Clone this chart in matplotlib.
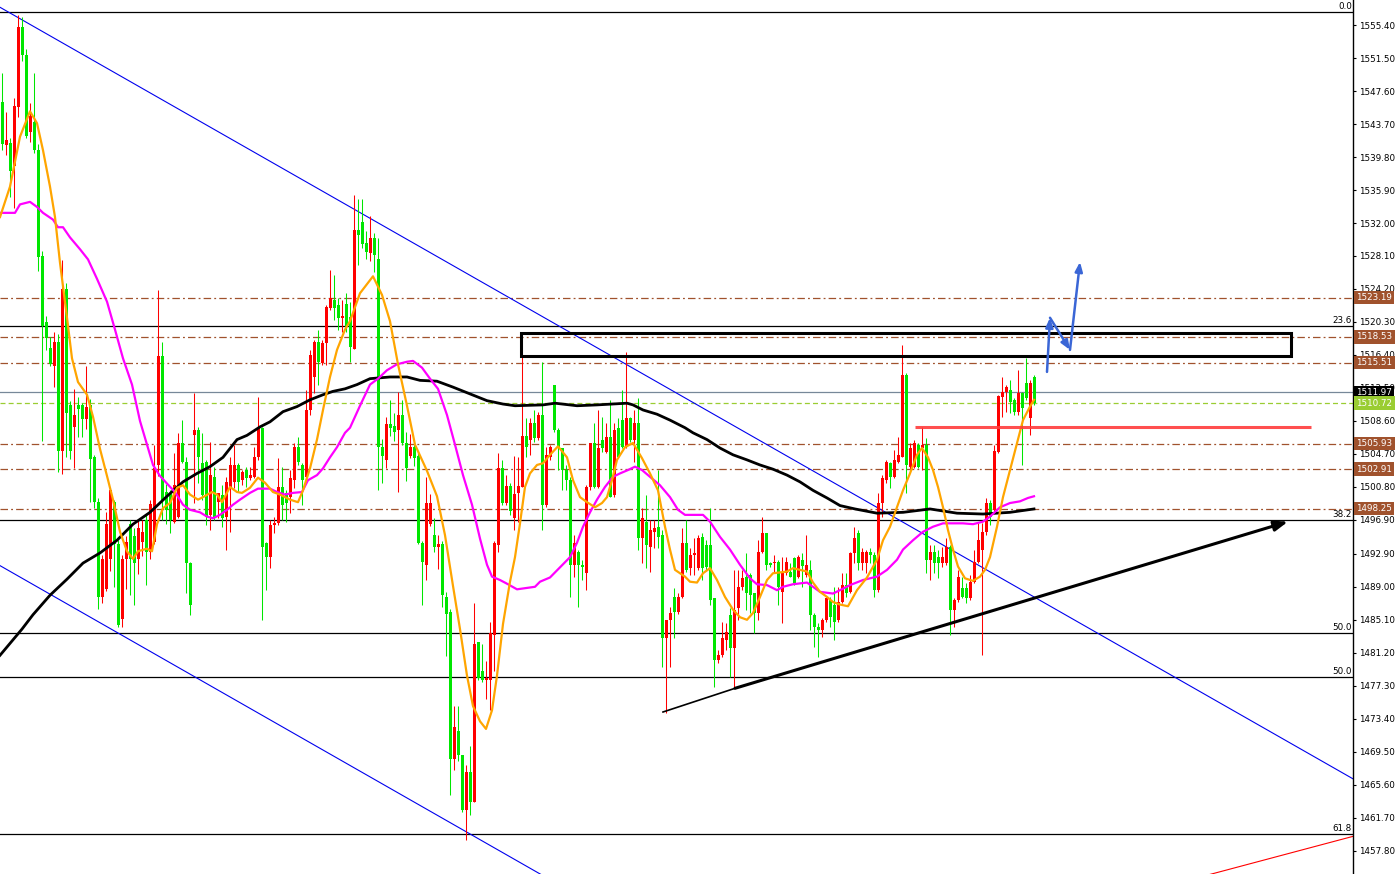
import numpy as np
import matplotlib
matplotlib.use("Agg")
import matplotlib.pyplot as plt
from matplotlib.patches import Rectangle

# ---- candles (bar index 0..258), prices ----
opens = [
    1546.3, 1541.2, 1541.5, 1538.7, 1545.7, 1555.2, 1551.9, 1542.8, 1543.9, 1540.6,
    1528.1, 1520.3, 1517.2, 1515.1, 1517.9, 1505.1, 1524.2, 1510.5, 1507.9, 1510.5,
    1510.5, 1508.8, 1510.5, 1504.3, 1499.0, 1487.8, 1488.7, 1492.3, 1499.0, 1494.1,
    1485.2, 1492.3, 1496.4, 1495.0, 1492.3, 1494.3, 1496.9, 1493.1, 1494.3, 1503.4,
    1516.3, 1500.2, 1500.0, 1496.7, 1497.3, 1506.0, 1503.8, 1491.8, 1506.9, 1507.5,
    1503.6, 1503.8, 1497.5, 1502.0, 1499.0, 1499.9, 1497.3, 1500.8, 1501.4, 1503.4,
    1501.6, 1502.8, 1501.9, 1502.0, 1504.3, 1507.8, 1494.2, 1492.5, 1496.3, 1496.5,
    1500.8, 1500.1, 1499.6, 1501.6, 1505.5, 1503.4, 1502.0, 1509.9, 1513.8, 1517.9,
    1515.5, 1517.8, 1521.9, 1522.9, 1522.3, 1520.8, 1522.4, 1520.9, 1517.1, 1531.2,
    1532.1, 1529.6, 1528.5, 1530.2, 1527.7, 1505.5, 1504.0, 1508.2, 1508.0, 1507.5,
    1509.3, 1506.0, 1504.5, 1505.5, 1504.5, 1494.2, 1491.6, 1496.4, 1495.1, 1493.7,
    1494.0, 1487.8, 1486.0, 1468.6, 1471.9, 1469.1, 1462.6, 1467.1, 1463.6, 1482.5,
    1479.0, 1478.0, 1478.0, 1483.3, 1493.9, 1503.0, 1498.9, 1500.9, 1497.1, 1500.1,
    1500.8, 1506.8, 1506.4, 1508.4, 1506.6, 1509.3, 1498.7, 1504.3, 1512.9, 1507.5,
    1505.4, 1502.8, 1501.6, 1491.6, 1493.1, 1491.6, 1490.6, 1500.8, 1506.0, 1500.8,
    1506.4, 1504.9, 1506.7, 1499.9, 1507.8, 1508.7, 1505.5, 1509.0, 1506.4, 1508.4,
    1494.8, 1496.7, 1493.7, 1495.5, 1496.1, 1495.1, 1483.0, 1485.1, 1487.8, 1486.0,
    1487.8, 1494.2, 1491.2, 1492.8, 1491.2, 1494.9, 1493.9, 1493.9, 1487.7, 1480.4,
    1480.9, 1482.7, 1485.7, 1481.8, 1486.5, 1489.0, 1490.2, 1490.4, 1488.3, 1485.9,
    1493.1, 1495.4, 1491.8, 1491.8, 1491.9, 1488.4, 1490.6, 1490.8, 1492.4, 1490.2,
    1492.2, 1490.4, 1491.0, 1485.7, 1484.3, 1483.9, 1485.1, 1487.4, 1486.9, 1485.1,
    1487.2, 1489.2, 1488.4, 1493.0, 1495.4, 1491.8, 1491.8, 1493.1, 1492.8, 1488.6,
    1498.9, 1501.6, 1503.6, 1502.0, 1503.8, 1504.3, 1514.0, 1503.2, 1503.2, 1505.8,
    1505.4, 1505.8, 1492.2, 1493.1, 1492.5, 1491.8, 1491.8, 1493.7, 1486.3, 1487.4,
    1488.9, 1488.9, 1487.7, 1489.6, 1491.9, 1493.4, 1495.5, 1498.9, 1498.1, 1504.9,
    1511.4, 1512.0, 1512.3, 1511.1, 1509.7, 1511.9, 1513.1, 1508.9, 1513.8,
]
closes = [
    1541.3, 1541.8, 1538.2, 1545.8, 1555.2, 1551.9, 1542.3, 1544.7, 1540.6, 1528.0,
    1519.8, 1518.4, 1515.3, 1517.9, 1505.1, 1524.2, 1509.5, 1505.1, 1509.3, 1510.0,
    1508.8, 1510.3, 1504.1, 1499.0, 1487.8, 1492.3, 1496.4, 1500.4, 1494.1, 1484.5,
    1492.3, 1494.3, 1492.3, 1491.8, 1496.0, 1495.5, 1493.1, 1498.8, 1503.0, 1516.3,
    1499.3, 1498.1, 1496.9, 1501.0, 1506.0, 1503.8, 1491.8, 1486.9, 1507.5, 1504.3,
    1499.9, 1497.3, 1502.2, 1497.3, 1500.1, 1497.1, 1501.4, 1503.4, 1503.4, 1501.4,
    1502.6, 1501.9, 1502.2, 1504.3, 1507.8, 1493.7, 1492.5, 1496.3, 1496.5, 1500.8,
    1498.7, 1498.9, 1501.9, 1505.5, 1503.8, 1501.6, 1509.9, 1516.4, 1517.9, 1515.6,
    1517.8, 1522.1, 1523.1, 1521.9, 1520.8, 1521.0, 1519.7, 1517.3, 1531.2, 1530.6,
    1529.5, 1528.6, 1530.2, 1528.2, 1505.5, 1504.5, 1508.2, 1507.8, 1507.3, 1509.3,
    1506.0, 1503.0, 1505.5, 1504.2, 1494.2, 1491.9, 1498.9, 1498.9, 1493.7, 1494.0,
    1488.0, 1485.8, 1468.6, 1472.4, 1469.1, 1462.6, 1467.1, 1463.6, 1482.2, 1478.2,
    1478.0, 1478.2, 1483.5, 1494.2, 1503.0, 1498.9, 1500.9, 1498.0, 1500.0, 1500.9,
    1506.8, 1505.5, 1508.4, 1506.6, 1509.3, 1498.7, 1504.6, 1505.5, 1507.5, 1505.4,
    1502.8, 1501.6, 1491.6, 1494.2, 1491.6, 1491.3, 1500.8, 1506.0, 1500.8, 1505.4,
    1505.4, 1506.7, 1499.6, 1507.5, 1504.3, 1505.5, 1509.0, 1506.4, 1508.4, 1494.8,
    1497.1, 1493.9, 1495.7, 1496.0, 1494.9, 1483.0, 1485.1, 1485.9, 1486.0, 1487.8,
    1494.2, 1491.0, 1492.8, 1493.0, 1494.8, 1491.2, 1491.3, 1487.4, 1480.4, 1480.9,
    1483.0, 1483.7, 1481.8, 1486.3, 1489.0, 1490.0, 1488.3, 1488.0, 1485.9, 1493.1,
    1495.4, 1491.6, 1491.6, 1491.9, 1489.0, 1490.8, 1491.9, 1490.2, 1489.5, 1492.5,
    1491.4, 1491.6, 1485.7, 1484.3, 1483.9, 1485.1, 1487.7, 1485.4, 1484.8, 1487.2,
    1489.2, 1488.3, 1493.0, 1494.8, 1491.8, 1493.1, 1493.1, 1492.8, 1488.6, 1498.9,
    1501.9, 1503.8, 1502.0, 1504.0, 1504.6, 1514.0, 1503.4, 1505.4, 1506.0, 1503.2,
    1505.8, 1492.2, 1493.1, 1491.8, 1491.8, 1492.5, 1493.7, 1486.3, 1487.4, 1490.2,
    1487.8, 1487.7, 1489.6, 1491.9, 1494.5, 1495.5, 1498.9, 1497.3, 1505.1, 1511.6,
    1512.0, 1512.6, 1510.8, 1509.7, 1511.9, 1510.1, 1511.3, 1513.1, 1510.7,
]
highs = [
    1549.7, 1545.1, 1542.1, 1546.8, 1556.6, 1556.4, 1552.6, 1546.2, 1549.7, 1541.3,
    1528.7, 1521.0, 1518.5, 1519.1, 1518.9, 1527.6, 1524.9, 1511.0, 1512.4, 1511.4,
    1510.7, 1515.1, 1511.2, 1504.6, 1499.5, 1492.8, 1497.8, 1500.7, 1499.3, 1494.5,
    1492.8, 1495.0, 1496.9, 1496.0, 1496.9, 1496.9, 1497.6, 1499.3, 1505.8, 1524.1,
    1517.9, 1501.2, 1500.4, 1504.8, 1507.2, 1508.7, 1504.3, 1491.9, 1511.9, 1507.9,
    1507.2, 1504.0, 1506.1, 1503.2, 1500.1, 1501.0, 1502.0, 1504.3, 1505.8, 1503.6,
    1502.8, 1503.2, 1503.2, 1505.5, 1511.4, 1507.9, 1494.3, 1496.9, 1497.3, 1504.2,
    1503.2, 1500.4, 1502.8, 1506.0, 1506.7, 1503.6, 1512.3, 1517.0, 1518.2, 1519.4,
    1518.2, 1522.3, 1526.5, 1525.9, 1523.1, 1522.9, 1523.7, 1522.7, 1535.3, 1534.8,
    1534.8, 1531.1, 1532.8, 1530.8, 1530.2, 1506.5, 1509.1, 1511.1, 1509.5, 1512.0,
    1511.1, 1507.3, 1507.1, 1506.0, 1504.8, 1494.4, 1502.0, 1500.0, 1497.1, 1495.1,
    1494.4, 1488.4, 1486.4, 1474.9, 1474.9, 1469.1, 1467.9, 1470.2, 1487.1, 1482.5,
    1482.2, 1480.2, 1484.8, 1494.4, 1504.8, 1504.0, 1502.2, 1501.3, 1504.5, 1504.3,
    1516.2, 1509.0, 1509.0, 1509.9, 1509.7, 1515.6, 1505.5, 1505.8, 1512.9, 1507.8,
    1505.4, 1503.4, 1502.0, 1495.1, 1493.4, 1492.2, 1501.0, 1506.0, 1508.4, 1509.9,
    1509.1, 1508.4, 1511.1, 1508.4, 1509.0, 1512.3, 1516.8, 1509.1, 1509.9, 1511.3,
    1498.3, 1499.9, 1496.9, 1496.9, 1502.8, 1495.7, 1485.1, 1486.6, 1488.9, 1488.3,
    1496.0, 1496.9, 1493.6, 1494.8, 1495.1, 1495.4, 1494.5, 1498.3, 1487.7, 1481.5,
    1484.8, 1484.7, 1486.5, 1491.0, 1491.0, 1491.0, 1493.0, 1490.6, 1488.3, 1494.5,
    1497.3, 1495.4, 1491.9, 1492.8, 1492.2, 1492.5, 1492.5, 1491.8, 1492.5, 1492.8,
    1493.0, 1495.1, 1492.2, 1485.9, 1484.7, 1485.3, 1487.8, 1487.8, 1489.0, 1489.0,
    1490.6, 1490.6, 1493.1, 1496.1, 1495.7, 1493.6, 1493.4, 1493.6, 1493.1, 1500.1,
    1502.2, 1504.0, 1503.8, 1505.2, 1506.7, 1517.6, 1514.3, 1506.0, 1506.4, 1506.0,
    1507.9, 1506.6, 1493.9, 1493.9, 1493.4, 1493.7, 1494.8, 1493.9, 1487.7, 1491.0,
    1490.2, 1489.5, 1490.4, 1493.4, 1496.5, 1496.5, 1499.5, 1499.3, 1505.8, 1511.7,
    1513.8, 1512.9, 1513.4, 1511.3, 1514.6, 1512.0, 1516.0, 1513.5, 1514.0,
]
lows = [
    1540.6, 1540.0, 1535.1, 1533.8, 1544.5, 1551.2, 1542.1, 1541.6, 1540.3, 1526.3,
    1506.2, 1517.0, 1515.1, 1512.6, 1502.6, 1502.3, 1504.3, 1504.1, 1503.0, 1506.7,
    1506.7, 1507.7, 1499.0, 1498.3, 1486.4, 1487.1, 1488.5, 1490.9, 1489.0, 1484.3,
    1484.3, 1488.7, 1488.0, 1486.9, 1490.5, 1492.6, 1489.2, 1492.3, 1494.1, 1502.1,
    1496.9, 1496.4, 1495.4, 1496.5, 1497.1, 1503.6, 1488.3, 1485.7, 1498.9, 1501.3,
    1499.3, 1496.3, 1495.7, 1496.9, 1497.1, 1496.1, 1493.4, 1495.5, 1500.7, 1500.2,
    1501.0, 1500.8, 1501.6, 1501.9, 1504.0, 1485.1, 1488.6, 1491.2, 1495.4, 1496.3,
    1496.9, 1496.7, 1497.7, 1500.7, 1503.4, 1498.7, 1501.6, 1509.3, 1511.9, 1512.9,
    1515.2, 1515.2, 1521.7, 1520.5, 1519.4, 1519.1, 1519.1, 1515.6, 1517.1, 1527.0,
    1529.0, 1527.7, 1527.5, 1526.2, 1500.4, 1501.3, 1503.0, 1506.8, 1506.2, 1500.2,
    1505.8, 1501.5, 1504.2, 1503.3, 1494.0, 1486.9, 1489.8, 1496.2, 1493.1, 1491.1,
    1486.6, 1480.8, 1464.4, 1467.3, 1468.4, 1462.4, 1459.1, 1462.0, 1463.6, 1478.0,
    1477.7, 1475.7, 1474.4, 1479.0, 1493.1, 1498.7, 1498.7, 1497.5, 1495.7, 1496.7,
    1500.8, 1504.3, 1504.6, 1506.1, 1506.4, 1495.7, 1498.4, 1504.0, 1507.3, 1502.8,
    1500.4, 1500.4, 1487.8, 1490.2, 1486.6, 1489.8, 1488.6, 1500.4, 1500.7, 1500.7,
    1504.9, 1504.8, 1499.6, 1499.6, 1504.2, 1505.4, 1505.4, 1506.1, 1503.8, 1493.4,
    1491.8, 1491.2, 1490.8, 1493.6, 1493.6, 1479.5, 1474.1, 1479.5, 1483.0, 1485.8,
    1487.7, 1490.8, 1490.4, 1490.4, 1491.0, 1489.8, 1491.0, 1486.9, 1477.2, 1480.0,
    1480.7, 1481.5, 1478.3, 1477.2, 1485.1, 1488.6, 1486.3, 1485.9, 1483.5, 1485.1,
    1493.0, 1491.0, 1491.3, 1490.6, 1486.9, 1484.7, 1490.4, 1490.2, 1489.2, 1490.0,
    1489.0, 1490.2, 1483.9, 1481.9, 1480.7, 1483.1, 1484.8, 1484.3, 1482.7, 1484.8,
    1487.1, 1487.8, 1488.3, 1491.8, 1491.0, 1491.0, 1490.6, 1491.8, 1487.8, 1488.4,
    1497.3, 1501.3, 1500.7, 1501.9, 1503.6, 1504.3, 1500.1, 1502.8, 1503.0, 1503.0,
    1502.8, 1490.6, 1489.8, 1490.6, 1490.0, 1491.3, 1491.6, 1483.3, 1484.3, 1487.2,
    1487.7, 1487.1, 1487.4, 1489.5, 1491.8, 1480.9, 1495.1, 1496.3, 1497.8, 1504.8,
    1509.1, 1509.7, 1509.5, 1509.3, 1509.3, 1503.4, 1511.1, 1507.0, 1510.5,
]

# ---- moving averages (bar index, price) ----
fast_ma_idx = [-0.5, 2, 4.5, 7, 8.75, 10.25, 12, 13.25, 14.5, 16.25, 17.5, 19, 21.25, 22.75,
               24.5, 26.25, 27.75, 29.5, 31.25, 32.75, 34, 36.25, 37.5, 38.75, 40.25, 42,
               43.75, 45.25, 47, 49, 50.25, 52.5, 53.75, 55, 57, 58.75, 60, 62, 64, 65.75,
               67.75, 69.5, 72, 74, 75.25, 77, 78.75, 80.25, 82, 83.75, 85.75, 87, 89.5,
               92.75, 95, 97, 99, 101.25, 103.25, 106.25, 108.75, 110.75, 112.75, 114.5,
               116.25, 117.75, 119.5, 121, 122.5, 123.75, 125.25, 127, 128.25, 129.5,
               130.75, 132, 133.75, 135.25, 137, 139, 141.25, 142.75, 144.5, 146.25,
               148.25, 150, 151.25, 152.5, 153.75, 155.75, 157.75, 160, 162, 164, 165.75,
               167, 168.25, 170.75, 172, 173.75, 175.25, 177, 178.75, 180.75, 182.75,
               184.5, 186.25, 187.75, 189.5, 191.25, 192.75, 196.25, 197.75, 199.5,
               201.25, 202.75, 204.5, 206.25, 207.75, 209.5, 211.5, 213.75, 216.25,
               218.75, 220.25, 222, 223.75, 225.25, 227, 228.75, 230, 231.5, 232.75, 234,
               235.25, 236.5, 237.75, 239, 240.75, 242.75, 244.5, 245.75, 247, 248.75,
               250.25, 252, 253.75, 255.25, 257, 258]
fast_ma = [1532.7, 1536.3, 1542.2, 1545.2, 1543.8, 1540.6, 1536.3, 1532.7, 1527.3, 1520.8,
           1516.0, 1513.2, 1511.7, 1509.1, 1505.3, 1502.1, 1499.3, 1495.5, 1493.2, 1492.3,
           1493.2, 1493.5, 1493.2, 1496.4, 1498.3, 1498.9, 1500.7, 1501.0, 1499.9, 1499.3,
           1499.6, 1500.2, 1499.9, 1499.0, 1500.8, 1500.2, 1500.1, 1500.7, 1501.9, 1501.3,
           1500.2, 1499.9, 1499.3, 1499.0, 1500.4, 1503.0, 1506.4, 1509.9, 1513.8, 1517.0,
           1519.4, 1520.4, 1523.7, 1525.7, 1523.5, 1520.4, 1515.3, 1510.4, 1505.8, 1502.7,
           1499.7, 1495.1, 1489.1, 1484.0, 1478.5, 1474.9, 1473.1, 1472.2, 1474.4, 1478.5,
           1484.6, 1489.6, 1492.5, 1496.5, 1500.8, 1502.4, 1503.4, 1503.6, 1504.6, 1505.6,
           1504.3, 1501.6, 1499.6, 1499.0, 1498.4, 1498.9, 1499.6, 1501.6, 1504.0, 1505.5,
           1506.0, 1504.2, 1502.4, 1500.4, 1496.1, 1493.4, 1491.0, 1490.2, 1489.6, 1489.5,
           1490.6, 1491.2, 1489.8, 1487.8, 1486.3, 1485.4, 1485.1, 1485.9, 1487.8, 1489.8,
           1490.6, 1490.8, 1491.2, 1491.0, 1490.8, 1489.5, 1488.4, 1487.8, 1487.2, 1486.9,
           1486.7, 1488.6, 1490.1, 1492.2, 1494.5, 1496.1, 1498.4, 1500.4, 1502.4, 1504.6,
           1505.4, 1504.3, 1502.8, 1500.8, 1498.4, 1495.7, 1493.4, 1491.4, 1490.0, 1489.7,
           1490.2, 1491.0, 1492.5, 1496.1, 1499.6, 1502.8, 1506.0, 1508.7, 1510.3, 1511.1]

mid_ma_idx = [-0.5, 3.25, 4.5, 7, 8.75, 10.25, 12.75, 14, 15.25, 17, 19.5, 21.5, 23.75,
              26.25, 28.25, 30.25, 32.5, 34.5, 36.25, 37.75, 39.5, 41.25, 43.25, 45.25,
              47, 49.5, 51.25, 52.75, 54.5, 56.25, 57.75, 59.5, 62, 64, 67, 68.75, 70.75,
              72.75, 75, 76.5, 78.75, 80.25, 82, 83.75, 85.75, 87, 89.5, 92, 94, 96.25,
              98.75, 101.25, 102.75, 105, 107, 109, 111.25, 113.25, 115.25, 117.5,
              119.5, 121.25, 122.5, 124.5, 126.5, 128.75, 133.25, 134.5, 137, 139.5,
              142, 143.75, 145.25, 147, 148.75, 150.75, 152.75, 154.5, 156.5, 158.25,
              160, 162, 164.5, 167, 169, 170.75, 175.25, 177, 179.5, 182, 184.5, 187,
              188.75, 191.25, 193.75, 195.25, 197.75, 201.25, 202.75, 204.5, 207.75,
              209.5, 212, 215.25, 218.75, 221.25, 223.75, 225.25, 227.75, 230.25,
              232.75, 235.25, 240.25, 242.75, 245.25, 247, 249.5, 252, 254.5, 256.5, 258]
mid_ma = [1533.2, 1533.2, 1534.2, 1534.5, 1533.9, 1533.2, 1532.4, 1531.5, 1531.5, 1530.3,
          1528.9, 1527.7, 1525.4, 1522.7, 1519.4, 1516.0, 1512.9, 1508.6, 1505.8, 1503.4,
          1502.1, 1501.2, 1500.2, 1498.7, 1498.1, 1497.8, 1497.3, 1497.1, 1497.5, 1498.1,
          1498.7, 1499.3, 1500.1, 1500.6, 1500.6, 1500.2, 1499.9, 1500.1, 1500.2, 1501.6,
          1502.2, 1503.0, 1504.3, 1505.5, 1507.2, 1507.8, 1510.4, 1512.9, 1513.6, 1514.6,
          1515.3, 1515.6, 1515.7, 1514.9, 1513.6, 1512.4, 1509.3, 1505.8, 1502.2, 1498.7,
          1494.7, 1491.6, 1490.2, 1489.8, 1489.3, 1488.7, 1489.0, 1489.6, 1490.1, 1491.3,
          1492.5, 1494.2, 1496.1, 1497.8, 1499.3, 1500.8, 1502.0, 1502.4, 1502.8, 1503.2,
          1502.8, 1502.0, 1501.0, 1499.6, 1498.1, 1497.5, 1497.5, 1496.7, 1494.9, 1493.4,
          1491.6, 1490.0, 1489.3, 1489.2, 1488.6, 1489.0, 1489.3, 1489.5, 1489.0, 1488.4,
          1488.2, 1488.6, 1489.2, 1489.8, 1490.2, 1491.0, 1492.2, 1493.4, 1494.5, 1495.5,
          1496.1, 1496.5, 1496.5, 1496.4, 1496.7, 1497.3, 1498.4, 1498.9, 1499.1, 1499.5,
          1499.7]

slow_ma_idx = [-0.5, 5, 7.75, 12, 16.25, 20.25, 24.5, 28.75, 32.75, 37, 41.25, 45.25,
               48.75, 52, 55.25, 58.75, 61.25, 64.5, 67, 70.25, 73.75, 77, 80.25, 82.75,
               85.75, 88.75, 92, 97, 101.25, 104.5, 108.75, 112.75, 117, 121.25, 125.25,
               128.25, 135.25, 138.25, 143.75, 148.75, 156.25, 157.75, 160.25, 163.75,
               167, 170.75, 172.75, 176.25, 179.5, 182.75, 186.25, 189.5, 192.75, 196.25,
               199.5, 202.75, 206.25, 209.5, 213.25, 218.75, 225.25, 232, 238.75, 245.25,
               252, 258]
slow_ma = [1480.9, 1484.0, 1485.7, 1488.0, 1489.9, 1491.8, 1493.0, 1494.5, 1496.4, 1497.8,
           1499.7, 1501.4, 1502.4, 1503.2, 1504.3, 1506.4, 1506.9, 1507.9, 1508.5, 1509.7,
           1510.3, 1511.1, 1511.7, 1512.1, 1512.4, 1512.9, 1513.6, 1513.8, 1513.8, 1513.4,
           1513.3, 1512.6, 1511.8, 1511.0, 1510.6, 1510.4, 1510.5, 1510.7, 1510.4, 1510.5,
           1510.7, 1510.5, 1509.9, 1509.4, 1508.7, 1507.8, 1507.2, 1506.4, 1505.4, 1504.6,
           1504.0, 1503.4, 1502.9, 1502.2, 1501.4, 1500.4, 1499.5, 1498.6, 1498.2, 1497.7,
           1497.8, 1498.2, 1497.7, 1497.6, 1497.8, 1498.2]

# ---- price scale / levels ----
price_ticks = [1555.40, 1551.50, 1547.60, 1543.70, 1539.80, 1535.90, 1532.00, 1528.10,
               1524.20, 1520.30, 1516.40, 1512.50, 1508.60, 1504.70, 1500.80, 1496.90,
               1492.90, 1489.00, 1485.10, 1481.20, 1477.30, 1473.40, 1469.50, 1465.60,
               1461.70, 1457.80]
fib_names = ["0.0", "23.6", "38.2", "50.0", "50.0", "61.8"]
fib_prices = [1556.94, 1519.85, 1496.90, 1483.50, 1478.35, 1459.80]
level_prices = [1523.19, 1518.53, 1515.51, 1505.93, 1502.91, 1498.25]
ask_price = 1511.97
bid_price = 1510.72

# ---- drawn objects (bar index, price) ----
chan_upper = ([-0.5, 337.75], [1557.5, 1466.3])
chan_lower = ([-0.5, 337.75], [1491.5, 1400.2])
trend_start = (165.25, 1474.2)
trend_mid = (183.25, 1477.0)
trend_end = (321.5, 1496.7)
zone_box = (129.75, 322.25, 1516.3, 1519.0)
resist_line = (228.25, 327.25, 1507.9)
zigzag_idx = [261.25, 262.0, 267.0, 269.5]
zigzag_px = [1514.4, 1520.8, 1517.0, 1527.4]
red_ray = ([302.0, 337.75], [1455.0, 1459.5])

BULL = "#ff0000"
BEAR = "#00e600"
BROWN = "#a0522d"
ZIG = "#3a66d6"

plt.rcParams["font.family"] = ["DejaVu Sans"]
W, H = 1398, 874
fig = plt.figure(figsize=(W / 100, H / 100), dpi=100, facecolor="white")
ax = fig.add_axes([0, 0, 1353 / W, 1])
ax.set_xlim(-0.5, 337.75)
ax.set_ylim(1455.05, 1558.36)

o = np.array(opens); c = np.array(closes)
hi = np.maximum(np.array(highs), np.maximum(o, c))
lo = np.minimum(np.array(lows), np.minimum(o, c))
idx = np.arange(len(o))
cols = np.where(c > o, BULL, BEAR)

# levels (behind candles)
for p in fib_prices:
    ax.axhline(p, color="black", lw=0.9, zorder=1)
for p in level_prices:
    ax.axhline(p, color=BROWN, lw=0.9, ls=(0, (6, 2.5, 1.5, 2.5)), zorder=1)
ax.axhline(ask_price, color="#778899", lw=0.9, zorder=1)
ax.axhline(bid_price, color="#9acd32", lw=0.9, ls=(0, (4, 2.5)), zorder=1)

ax.plot(*chan_upper, color="#0000ee", lw=0.8, zorder=2)
ax.plot(*chan_lower, color="#0000ee", lw=0.8, zorder=2)
ax.plot(*red_ray, color="#ff0000", lw=0.8, zorder=2)

# candles
ax.vlines(idx, lo, hi, colors=cols, lw=0.75, zorder=3)
bottom = np.minimum(o, c)
height = np.maximum(np.abs(c - o), 0.12)
ax.bar(idx, height, bottom=bottom, width=0.75, color=cols, lw=0, zorder=4)

# moving averages
ax.plot(slow_ma_idx, slow_ma, color="black", lw=2.0, zorder=5)
ax.plot(mid_ma_idx, mid_ma, color="#ff00ff", lw=1.6, zorder=5)
ax.plot(fast_ma_idx, fast_ma, color="#ffa500", lw=1.6, zorder=6)

# hand-drawn objects
ax.add_patch(Rectangle((zone_box[0], zone_box[2]), zone_box[1] - zone_box[0],
                       zone_box[3] - zone_box[2], fill=False, ec="black", lw=2.2, zorder=7))
ax.plot([resist_line[0], resist_line[1]], [resist_line[2]] * 2, color="#ff3c3c",
        lw=2.2, alpha=0.9, zorder=7, solid_capstyle="butt")
# rising support: thin start, thick arrow to the right
ax.plot([trend_start[0], trend_mid[0]], [trend_start[1], trend_mid[1]],
        color="black", lw=1.2, zorder=7)
ax.annotate("", xy=trend_end, xytext=trend_mid,
            arrowprops=dict(arrowstyle="-|>,head_length=0.8,head_width=0.3",
                            color="black", lw=2.2, shrinkA=0, shrinkB=0), zorder=7)
for i in range(3):
    ax.annotate("", xy=(zigzag_idx[i + 1], zigzag_px[i + 1]),
                xytext=(zigzag_idx[i], zigzag_px[i]),
                arrowprops=dict(arrowstyle="-|>,head_length=0.55,head_width=0.22",
                                color=ZIG, lw=1.8, shrinkA=0, shrinkB=0), zorder=7)

# axis styling
for s in ["top", "left", "bottom"]:
    ax.spines[s].set_visible(False)
ax.spines["right"].set_color("black")
ax.spines["right"].set_linewidth(1.0)
ax.set_xticks([])
ax.yaxis.tick_right()
ax.set_yticks(price_ticks)
ax.set_yticklabels([f"{p:.2f}" for p in price_ticks])
ax.tick_params(axis="y", direction="out", length=2.5, width=0.8, pad=2,
               labelsize=6.3, colors="black")

ytr = ax.get_yaxis_transform()
for name, p in zip(fib_names, fib_prices):
    ax.text(0.9993, p + 0.15, name, transform=ytr, ha="right", va="bottom",
            fontsize=6.3, color="black", zorder=8)

def price_tag(p, face, txt="white"):
    ax.text(1.0025, p, f"{p:.2f}", transform=ytr, ha="left", va="center",
            fontsize=6.3, color=txt, zorder=20, clip_on=False,
            bbox=dict(boxstyle="square,pad=0.25", fc=face, ec="none"))

for p in level_prices:
    price_tag(p, BROWN)
price_tag(ask_price, "black")
price_tag(bid_price, "#9acd32")

fig.savefig("out.png", dpi=100, facecolor="white")
